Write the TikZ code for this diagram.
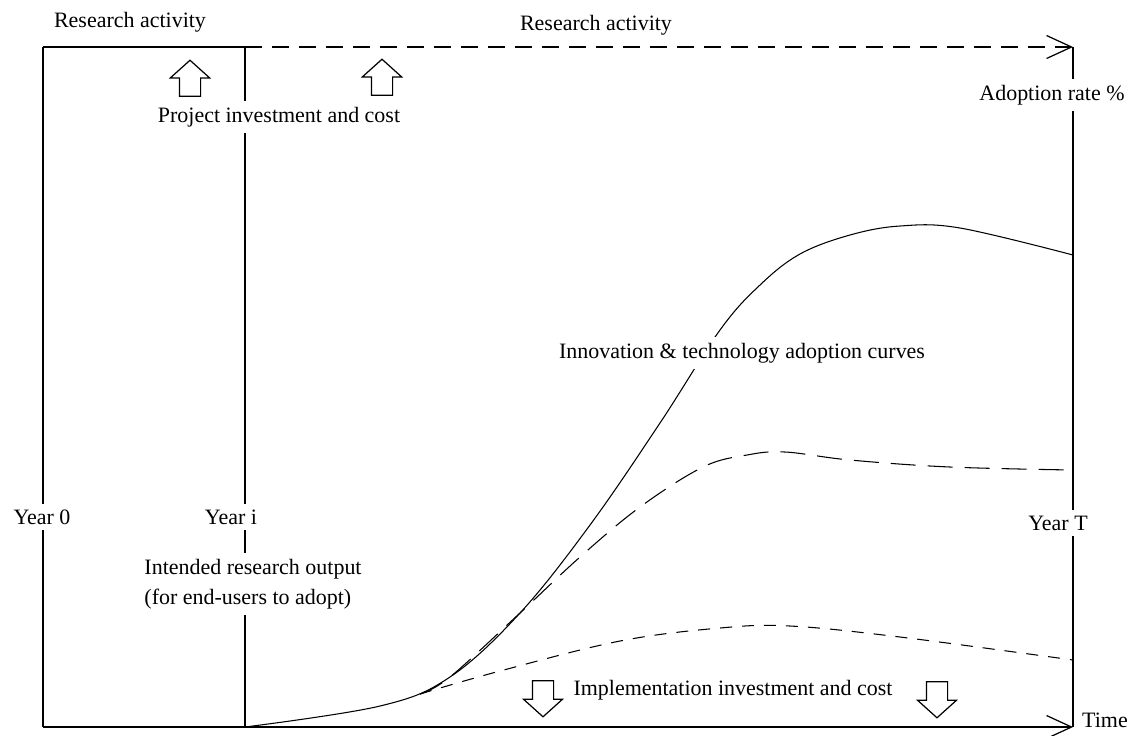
\documentclass[tikz,border=0pt]{standalone}
\usepackage{fontspec}
\setmainfont{Liberation Serif}
\usetikzlibrary{arrows.meta,shapes.arrows}

\begin{document}
\begin{tikzpicture}[x=0.02cm, y=-0.02cm, >={Straight Barb[length=5mm,width=4.6mm]}, line width=0.7pt,
    every node/.style={font=\fontsize{12.5}{15}\selectfont, fill=white},
    blockup/.style={draw, single arrow, shape border rotate=90, minimum height=7.2mm, inner sep=2mm,
      single arrow head extend=1.8mm, single arrow tip angle=96},
    blockdown/.style={blockup, shape border rotate=270},
    topdash/.style={dash pattern=on 3.4mm off 2mm},
    longdash/.style={dash pattern=on 5mm off 2.4mm},
    shortdash/.style={dash pattern=on 2.4mm off 2mm}]
    \useasboundingbox[fill=white] (0,0) rectangle (1131,735);
    % frame
    \coordinate (t0) at (43,47);
    \coordinate (o0) at (43,727);
    \coordinate (ti) at (245,47);
    \coordinate (oi) at (245,727);
    \coordinate (tT) at (1073,47);
    \coordinate (oT) at (1073,727);
    \draw (t0) -- (ti);
    \draw[topdash,->] (ti) -- (tT);
    \draw (t0) -- (o0);
    \draw (ti) -- (oi);
    \draw (tT) -- (oT);
    \draw[->] (o0) -- (oT);
    % adoption curves
    \draw[line width=0.6pt] plot[smooth, tension=0.6] coordinates {(245,727) (380,706) (450,677) (520,613)
      (590,525) (660,423) (720,330) (760,285) (800,254) (850,235) (900,226) (960,228) (1073,255)};
    \draw[line width=0.6pt, longdash] plot[smooth, tension=0.6] coordinates {(420,694) (450,677) (520,613)
      (580,557) (640,507) (703,467) (747,455) (785,452) (850,460) (950,467) (1073,470)};
    \draw[line width=0.6pt, shortdash] plot[smooth, tension=0.6] coordinates {(420,694) (500,671) (620,641)
      (720,628) (790,626) (900,637) (1073,660)};
    % labels
    \node (ra0) at (130,22) {Research activity};
    \node (ra1) at (596,25) {Research activity};
    \node (proj) at (279,117) {Project investment and cost};
    \node (adopt) at (1052,95) {Adoption rate \%};
    \node (curves) at (742,353) {Innovation \& technology adoption curves};
    \node (year0) at (42,517) {Year 0};
    \node (yeari) at (231,517) {Year i};
    \node (yearT) at (1058,523) {Year T};
    \node[align=left, anchor=west] (output) at (138,584) {Intended research output\\[2pt](for end-users to adopt)};
    \node (impl) at (733,690) {Implementation investment and cost};
    \node (time) at (1105,720) {Time};
    % investment arrows
    \node[blockup] (up1) at (190,83) {};
    \node[blockup] (up2) at (382,82) {};
    \node[blockdown] (down1) at (543,694) {};
    \node[blockdown] (down2) at (937,695) {};
\end{tikzpicture}
\end{document}
